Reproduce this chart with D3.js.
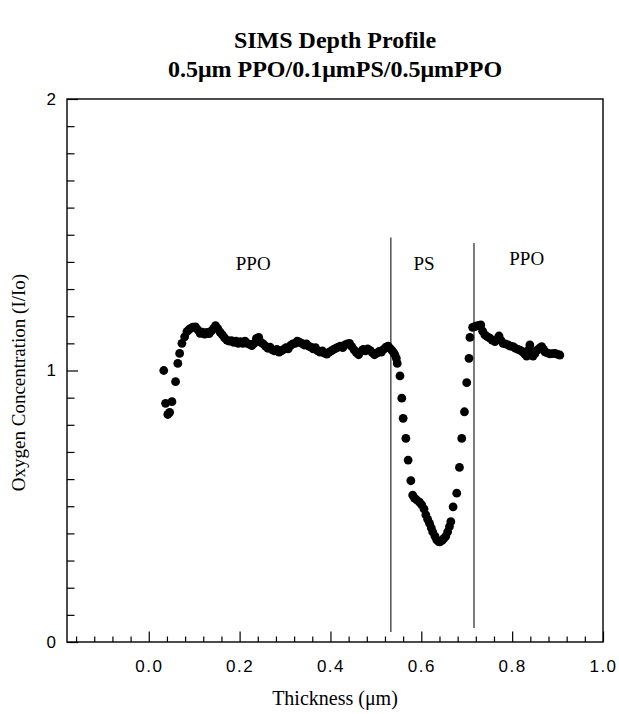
<!DOCTYPE html>
<html>
<head>
<meta charset="utf-8">
<script src="https://cdn.jsdelivr.net/npm/d3@7"></script>
<style>
  body { margin: 0; background: #fff; }
  svg { display: block; }
</style>
</head>
<body>
<div id="chart"></div>
<script>
// thickness (um) and oxygen concentration (I/Io)
var thickness = [
  0.033, 0.037, 0.042, 0.046, 0.051, 0.059, 0.064, 0.068, 0.073, 0.079,
  0.084, 0.088, 0.092, 0.097, 0.103, 0.108, 0.113,
  0.118, 0.123, 0.128, 0.133, 0.138, 0.143, 0.147, 0.152, 0.157, 0.162,
  0.167, 0.172, 0.177, 0.182, 0.187, 0.192, 0.197, 0.202, 0.207, 0.212,
  0.217, 0.222, 0.227, 0.232, 0.237, 0.242, 0.247, 0.252, 0.257, 0.262,
  0.267, 0.272, 0.277, 0.282, 0.287, 0.292, 0.297, 0.302, 0.307, 0.312,
  0.317, 0.322, 0.327, 0.332, 0.337, 0.342, 0.347, 0.352, 0.357, 0.362,
  0.367, 0.372, 0.377, 0.382, 0.387, 0.392, 0.397, 0.402, 0.407, 0.412,
  0.417, 0.422, 0.427, 0.432, 0.437, 0.442, 0.447, 0.452, 0.457, 0.462,
  0.467, 0.472, 0.477, 0.482, 0.487, 0.492, 0.497, 0.502, 0.507, 0.512,
  0.517, 0.522, 0.527, 0.531, 0.535, 0.539, 0.542,
  0.545, 0.547, 0.553, 0.557, 0.560, 0.566, 0.571, 0.577, 0.581, 0.585,
  0.590, 0.596, 0.601, 0.606, 0.610, 0.614, 0.618, 0.622, 0.625, 0.630,
  0.634, 0.638, 0.641, 0.646, 0.650, 0.654, 0.658, 0.662, 0.665, 0.670,
  0.678, 0.684, 0.689, 0.695, 0.700, 0.705, 0.707, 0.713, 0.718, 0.722,
  0.727, 0.731, 0.735, 0.740, 0.745, 0.751, 0.756, 0.762, 0.766, 0.771,
  0.775, 0.780, 0.785, 0.791, 0.796, 0.802, 0.807, 0.813, 0.818, 0.823,
  0.828, 0.832, 0.836, 0.839, 0.843, 0.846, 0.850, 0.855, 0.860, 0.865,
  0.869, 0.872, 0.877, 0.883, 0.888, 0.894, 0.899, 0.905
]
var oxygen = [
  1.000, 0.879, 0.838, 0.846, 0.885, 0.959, 1.026, 1.063, 1.100, 1.124,
  1.143, 1.150, 1.155, 1.160, 1.161, 1.150, 1.137,
  1.141, 1.134, 1.140, 1.136, 1.146, 1.155, 1.165, 1.154, 1.141, 1.131,
  1.120, 1.112, 1.108, 1.110, 1.104, 1.108, 1.100, 1.106, 1.100, 1.108,
  1.100, 1.096, 1.092, 1.100, 1.118, 1.122, 1.104, 1.098, 1.090, 1.082,
  1.086, 1.076, 1.072, 1.078, 1.068, 1.072, 1.078, 1.084, 1.080, 1.092,
  1.098, 1.100, 1.108, 1.104, 1.100, 1.094, 1.098, 1.090, 1.086, 1.080,
  1.084, 1.072, 1.068, 1.072, 1.064, 1.060, 1.068, 1.072, 1.078, 1.082,
  1.086, 1.090, 1.084, 1.094, 1.098, 1.100, 1.088, 1.076, 1.066, 1.058,
  1.070, 1.078, 1.072, 1.080, 1.074, 1.066, 1.058, 1.064, 1.070, 1.068,
  1.078, 1.086, 1.090, 1.082, 1.075, 1.066, 1.058,
  1.045, 1.026, 0.980, 0.898, 0.824, 0.750, 0.670, 0.594, 0.541, 0.530,
  0.523, 0.515, 0.505, 0.490, 0.468, 0.452, 0.437, 0.420, 0.406, 0.390,
  0.376, 0.370, 0.369, 0.374, 0.382, 0.390, 0.406, 0.425, 0.443, 0.498,
  0.548, 0.643, 0.750, 0.848, 0.955, 1.045, 1.122, 1.159, 1.162, 1.164,
  1.166, 1.168, 1.145, 1.131, 1.125, 1.119, 1.112, 1.106, 1.115, 1.127,
  1.112, 1.100, 1.098, 1.094, 1.090, 1.088, 1.082, 1.078, 1.074, 1.069,
  1.060, 1.053, 1.075, 1.094, 1.070, 1.053, 1.062, 1.075, 1.082, 1.088,
  1.078, 1.069, 1.065, 1.061, 1.062, 1.063, 1.060, 1.057
]

// layer boundaries (um) and how far up/down each marker line runs (I/Io)
var boundaryX = [0.533, 0.716]
var boundaryTop = [1.49, 1.47]
var boundaryBottom = [0.037, 0.052]

// layer names and where they sit
var layerNames = ['PPO', 'PS', 'PPO']
var layerX = [0.23, 0.606, 0.832]
var layerY = [1.37, 1.37, 1.39]

// tick labels
var xTicks = [0.0, 0.2, 0.4, 0.6, 0.8, 1.0]
var yTicks = [0, 1, 2]

var margin = { top: 99, right: 16, bottom: 72, left: 67 },
    width = 619 - margin.left - margin.right,
    height = 714 - margin.top - margin.bottom;

var svg = d3.select('#chart')
    .append('svg')
    .attr('width', 619)
    .attr('height', 714)

var g = svg.append('g')
    .attr('transform', 'translate(' + margin.left + ',' + margin.top + ')')

var x = d3.scaleLinear().domain([-0.18, 1.0]).range([0, width])
var y = d3.scaleLinear().domain([0, 2]).range([height, 0])

// minor ticks, inward, no labels
var xMinor = d3.range(-0.16, 1.0, 0.04).filter(function (v) {
    return Math.abs(v / 0.2 - Math.round(v / 0.2)) > 0.01
})
var yMinor = d3.range(0.1, 2.0, 0.1).filter(function (v) {
    return Math.abs(v - Math.round(v)) > 0.01
})

g.append('g')
    .attr('transform', 'translate(0,' + height + ')')
    .call(d3.axisBottom(x).tickValues(xMinor).tickSize(-5.5).tickFormat('').tickSizeOuter(0))
    .call(function (a) { a.select('.domain').remove() })

g.append('g')
    .attr('class', 'xaxis')
    .attr('transform', 'translate(0,' + height + ')')
    .call(d3.axisBottom(x).tickValues(xTicks).tickSize(-10.5).tickPadding(18)
        .tickFormat(d3.format('.1f')).tickSizeOuter(0))
    .call(function (a) { a.select('.domain').remove() })

g.append('g')
    .call(d3.axisLeft(y).tickValues(yMinor).tickSize(-7.5).tickFormat('').tickSizeOuter(0))
    .call(function (a) { a.select('.domain').remove() })

g.append('g')
    .attr('class', 'yaxis')
    .call(d3.axisLeft(y).tickValues(yTicks).tickSize(-11).tickPadding(11)
        .tickFormat(d3.format('d')).tickSizeOuter(0))
    .call(function (a) { a.select('.domain').remove() })

g.selectAll('.tick line').attr('stroke', '#000').attr('stroke-width', 1.2)
g.selectAll('.xaxis .tick text, .yaxis .tick text')
    .style('font-family', '"Liberation Sans", Arial, sans-serif')
    .style('font-size', '17px')
    .attr('fill', '#000')
g.selectAll('.xaxis .tick text').style('letter-spacing', '1.5px')

// frame
g.append('rect')
    .attr('x', 0).attr('y', 0)
    .attr('width', width).attr('height', height)
    .attr('fill', 'none')
    .attr('stroke', '#000')
    .attr('stroke-width', 1.4)

// layer boundary lines
boundaryX.forEach(function (b, i) {
    g.append('line')
        .attr('x1', x(b)).attr('x2', x(b))
        .attr('y1', y(boundaryTop[i])).attr('y2', y(boundaryBottom[i]))
        .attr('stroke', '#111')
        .attr('stroke-width', 1.1)
})

// layer labels
layerNames.forEach(function (n, i) {
    g.append('text')
        .attr('x', x(layerX[i]))
        .attr('y', y(layerY[i]))
        .attr('text-anchor', 'middle')
        .style('font-family', '"Liberation Serif", "Times New Roman", serif')
        .style('font-size', '19px')
        .text(n)
})

// the profile points
g.append('g')
    .selectAll('circle')
    .data(thickness)
    .enter()
    .append('circle')
    .attr('cx', function (d) { return x(d) })
    .attr('cy', function (d, i) { return y(oxygen[i]) })
    .attr('r', 4.4)
    .attr('fill', '#000')

// title
var title = svg.append('text')
    .attr('text-anchor', 'middle')
    .style('font-family', '"Liberation Serif", "Times New Roman", serif')
    .style('font-weight', 'bold')
    .style('font-size', '24px')
title.append('tspan').attr('x', margin.left + width / 2).attr('y', 48).text('SIMS Depth Profile')
title.append('tspan').attr('x', margin.left + width / 2).attr('y', 77).text('0.5\u03bcm PPO/0.1\u03bcmPS/0.5\u03bcmPPO')

// axis titles
svg.append('text')
    .attr('x', margin.left + width / 2)
    .attr('y', 705)
    .attr('text-anchor', 'middle')
    .style('font-family', '"Liberation Serif", "Times New Roman", serif')
    .style('font-size', '20px')
    .text('Thickness (\u03bcm)')

svg.append('text')
    .attr('transform', 'translate(25,' + (margin.top + height / 2 + 12) + ') rotate(-90)')
    .attr('text-anchor', 'middle')
    .style('font-family', '"Liberation Serif", "Times New Roman", serif')
    .style('font-size', '19px')
    .text('Oxygen Concentration (I/Io)')
</script>
</body>
</html>
